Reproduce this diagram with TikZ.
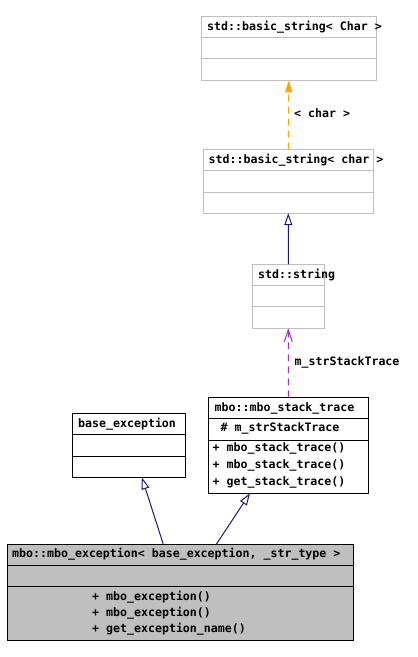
\documentclass[tikz,border=0pt]{standalone}
\usepackage{fontspec}
\setmonofont{DejaVu Sans Mono}
\usetikzlibrary{arrows.meta,positioning}
\definecolor{extgray}{HTML}{BFBFBF}
\definecolor{selfgray}{HTML}{BFBFBF}
\definecolor{tmplorange}{HTML}{FFA500}
\definecolor{usepurple}{HTML}{9A32CD}
\definecolor{inhnavy}{HTML}{191970}
\tikzset{
  part/.style={draw=black, line width=1bp, inner sep=0pt, outer sep=0pt, anchor=north west},
  extpart/.style={part, draw=extgray},
  selfpart/.style={part, fill=selfgray},
  txt/.style={anchor=base west, inner sep=0pt, font=\fontsize{11.6bp}{14bp}\selectfont\ttfamily\bfseries},
  inharr/.style={-{Triangle[open,length=12bp,width=8bp]}, line width=1bp, draw=inhnavy},
  tmplarr/.style={-{Triangle[length=12bp,width=7bp]}, line width=1bp, draw=tmplorange, dash pattern=on 7bp off 5bp},
  usearr/.style={-{Straight Barb[length=12bp,width=8bp]}, line width=1bp, draw=usepurple, dash pattern=on 7bp off 5bp}
}

\begin{document}
\begin{tikzpicture}[x=1bp, y=-1bp]
    \useasboundingbox (0,0) rectangle (417,657);
    % std::basic_string< Char >
    \node[extpart, minimum width=175bp, minimum height=21bp] (chrTn) at (201.3,16.3) {};
    \node[extpart, minimum width=175bp, minimum height=21bp, below=0pt of chrTn] (chrTa) {};
    \node[extpart, minimum width=175bp, minimum height=22bp, below=0pt of chrTa] (chrTm) {};
    \node[txt] (chrTt) at (207,30.2) {std::basic\_string< Char >};
    % std::basic_string< char >
    \node[extpart, minimum width=170bp, minimum height=21bp] (chrN) at (203.3,149.7) {};
    \node[extpart, minimum width=170bp, minimum height=21.5bp, below=0pt of chrN] (chrA) {};
    \node[extpart, minimum width=170bp, minimum height=21bp, below=0pt of chrA] (chrM) {};
    \node[txt] (chrt) at (208.5,163.6) {std::basic\_string< char >};
    % std::string
    \node[extpart, minimum width=72bp, minimum height=21.5bp] (strN) at (252.3,264.3) {};
    \node[extpart, minimum width=72bp, minimum height=21bp, below=0pt of strN] (strA) {};
    \node[extpart, minimum width=72bp, minimum height=21.5bp, below=0pt of strA] (strM) {};
    \node[txt] (strt) at (258,278.2) {std::string};
    % base_exception
    \node[part, minimum width=113bp, minimum height=21bp] (baseN) at (72.3,413.3) {};
    \node[part, minimum width=113bp, minimum height=22bp, below=0pt of baseN] (baseA) {};
    \node[part, minimum width=113bp, minimum height=21bp, below=0pt of baseA] (baseM) {};
    \node[txt] (baset) at (78,427.2) {base\_exception};
    % mbo::mbo_stack_trace
    \node[part, minimum width=160bp, minimum height=21bp] (stN) at (208.3,397.3) {};
    \node[part, minimum width=160bp, minimum height=22.4bp, below=0pt of stN] (stA) {};
    \node[part, minimum width=160bp, minimum height=52.6bp, below=0pt of stA] (stM) {};
    \node[txt] (stt) at (214.5,411.5) {mbo::mbo\_stack\_trace};
    \node[txt] (sta) at (220.5,431.2) {\# m\_strStackTrace};
    \foreach \y/\f [count=\i] in {451.5/mbo\_stack\_trace(), 468.3/mbo\_stack\_trace(), 485/get\_stack\_trace()}
      \node[txt] (stf\i) at (212.5,\y) {+ \f};
    % mbo::mbo_exception
    \node[selfpart, minimum width=346bp, minimum height=21bp] (excN) at (7.3,544.3) {};
    \node[selfpart, minimum width=346bp, minimum height=21.4bp, below=0pt of excN] (excA) {};
    \node[selfpart, minimum width=346bp, minimum height=53.3bp, below=0pt of excA] (excM) {};
    \node[txt] (exct) at (12,557.8) {mbo::mbo\_exception< base\_exception, \_str\_type >};
    \foreach \y/\f [count=\i] in {600/mbo\_exception(), 616/mbo\_exception(), 632/get\_exception\_name()}
      \node[txt] (excf\i) at (92,\y) {+ \f};
    % relations
    \draw[tmplarr] (chrN.north) -- (chrTm.south);
    \node[txt] (tmplLbl) at (294,117.5) {< char >};
    \draw[inharr] (strN.north) -- (chrM.south);
    \draw[usearr] (stN.north) -- (strM.south);
    \node[txt] (useLbl) at (294.5,365.8) {m\_strStackTrace};
    \draw[inharr] ([xshift=156bp]excN.north west) -- ([xshift=69.5bp]baseM.south west);
    \draw[inharr] ([xshift=209bp]excN.north west) -- ([xshift=41.7bp]stM.south west);
\end{tikzpicture}
\end{document}
